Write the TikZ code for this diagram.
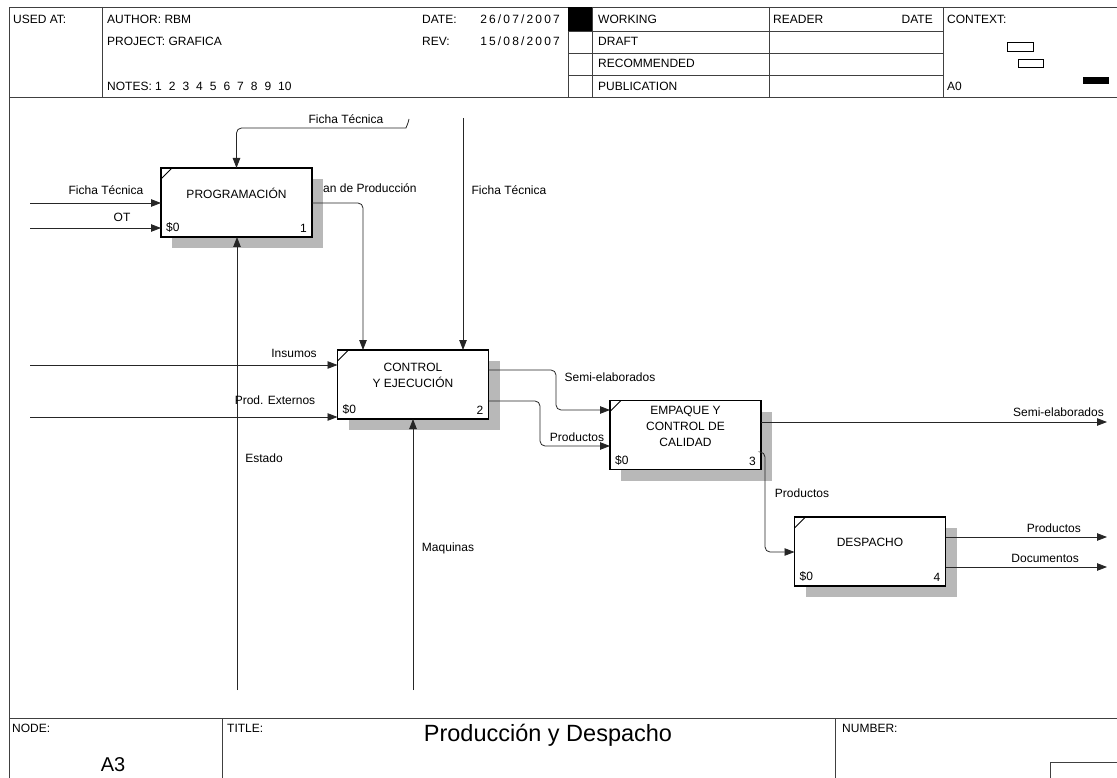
\documentclass[tikz,border=0pt]{standalone}
\usepackage{fontspec}
\setmainfont{Liberation Sans}
\usetikzlibrary{arrows.meta,shadows}

\begin{document}
\begin{tikzpicture}[x=1pt,y=-1pt,
    every node/.style={font=\fontsize{12}{16}\selectfont,inner sep=0pt},
    frame/.style={line width=0.9pt,black!75},
    flow/.style={line width=0.8pt,black!85,rounded corners=5pt,-{Triangle[length=10pt,width=7.5pt]}},
    box/.style={draw,line width=1.8pt,outer sep=0pt,fill=white,minimum width=151pt,minimum height=69pt,
      drop shadow={shadow xshift=11pt,shadow yshift=-11pt,fill=black!28,opacity=1}},
    wide/.style={font=\fontsize{12}{16}\selectfont\addfontfeatures{LetterSpace=18}},
    lbl/.style={fill=none}]
  \useasboundingbox (0,0) rectangle (1117,778);
  % frame and header
  \draw[frame] (9,778)--(9,7)--(1117,7);
  \draw[frame] (9,97)--(1117,97);
  \draw[frame] (9,718)--(1117,718);
  \foreach \x in {102,568,592,769,943} \draw[frame] (\x,7)--(\x,97);
  \foreach \y in {31,53,75} \draw[frame] (568,\y)--++(375,0);
  \fill (568,7) rectangle (592,31);
  \node[anchor=west] (used) at (13,19) {USED AT:};
  \node[anchor=west] (auth) at (107,19) {AUTHOR: RBM};
  \node[anchor=west] (proj) at (107,41) {PROJECT: GRAFICA};
  \node[anchor=west] (notes) at (107,86) {NOTES: 1\hspace{7pt}2\hspace{7pt}3\hspace{7pt}4\hspace{7pt}5\hspace{7pt}6\hspace{7pt}7\hspace{7pt}8\hspace{7pt}9\hspace{7pt}10};
  \node[anchor=west] (date) at (422,19) {DATE:};
  \node[anchor=east,wide] (date-v) at (560,19) {26/07/2007};
  \node[anchor=west] (rev) at (422,41) {REV:};
  \node[anchor=east,wide] (rev-v) at (560,41) {15/08/2007};
  \node[anchor=west] (work) at (598,19) {WORKING};
  \node[anchor=west] (draft) at (598,41) {DRAFT};
  \node[anchor=west] (recom) at (598,63) {RECOMMENDED};
  \node[anchor=west] (publ) at (598,86) {PUBLICATION};
  \node[anchor=west] (reader) at (773,19) {READER};
  \node[anchor=east] (rdate) at (933,19) {DATE};
  \node[anchor=west] (ctx) at (947,19) {CONTEXT:};
  \node[anchor=west] (a0) at (947,86) {A0};
  \draw[line width=0.8pt] (1007,42) rectangle (1033,51);
  \draw[line width=0.8pt] (1018,59) rectangle (1043,67);
  \fill (1083,77) rectangle (1109,84);
  % footer
  \draw[frame] (222,718)--(222,778);
  \draw[frame] (835,718)--(835,778);
  \draw[frame] (1050,778)--(1050,762)--(1117,762);
  \node[anchor=west] (node-l) at (12,728) {NODE:};
  \node[anchor=west] (title-l) at (227,728) {TITLE:};
  \node[anchor=west] (num-l) at (842,728) {NUMBER:};
  \node[font=\fontsize{20}{24}\selectfont] (node-v) at (113,765) {A3};
  \node[font=\fontsize{23.5}{28}\selectfont] (title) at (548,735) {Producción y Despacho};
  % activities
  \foreach \n/\p/\t/\k in {prog/{236.5,202.5}/PROGRAMACIÓN/1,
      ctrl/{413,384.5}/{CONTROL\\Y EJECUCIÓN}/2,
      emp/{685.5,435}/{EMPAQUE Y\\CONTROL DE\\CALIDAD}/3,
      desp/{870,551.5}/DESPACHO/4}{
    \node[box] (\n) at (\p) {};
    \node[align=center] (\n-t) at ([yshift=9pt]\n.center) {\t};
    \node[anchor=south west] (\n-s) at ([shift={(5pt,4pt)}]\n.south west) {\$0};
    \node[anchor=south east] (\n-k) at ([shift={(-5pt,4pt)}]\n.south east) {\k};
    \draw[line width=0.9pt] ([yshift=-11pt]\n.north west)--([xshift=11pt]\n.north west);
  }
  % free ends
  \coordinate (in-ft) at (30,203);
  \coordinate (in-ot) at (30,228);
  \coordinate (in-ins) at (30,365);
  \coordinate (in-ext) at (30,417);
  \coordinate (tun-ft) at (409,119);
  \coordinate (top-ft) at (463,118);
  \coordinate (m-est) at (237,690);
  \coordinate (m-maq) at (413,690);
  \coordinate (out-semi) at (1107,422);
  \coordinate (out-prod) at (1107,537);
  \coordinate (out-doc) at (1107,567);
  % arrows
  \draw[flow] (in-ft)--(in-ft -| prog.west);
  \draw[flow] (in-ot)--(in-ot -| prog.west);
  \draw[flow] (tun-ft) to[out=-100,in=0] ++(-8,9) -| (prog.north);
  \draw[flow] (in-ft -| prog.east) -| ([xshift=-50pt]ctrl.north);
  \draw[flow] (top-ft)--(top-ft |- ctrl.north);
  \draw[flow] (m-est)--(m-est |- prog.south);
  \draw[flow] (in-ins)--(in-ins -| ctrl.west);
  \draw[flow] (in-ext)--(in-ext -| ctrl.west);
  \draw[flow] (m-maq)--(ctrl.south);
  \draw[flow] (ctrl.east |- 0,370)--(556,370)--(556,410)--(emp.west |- 0,410);
  \draw[flow] (ctrl.east |- 0,401)--(540,401)--(540,446)--(emp.west |- 0,446);
  \draw[flow] (emp.east |- out-semi)--(out-semi);
  \draw[flow] (emp.east |- 0,452)--(765,452)--(765,552)--(desp.west |- 0,552);
  \draw[flow] (desp.east |- out-prod)--(out-prod);
  \draw[flow] (desp.east |- out-doc)--(out-doc);
  % arrow labels
  \node[lbl] (l-ft1) at (106,190) {Ficha Técnica};
  \node[lbl] (l-ot) at (122,217) {OT};
  \node[lbl] (l-ft2) at (346,119) {Ficha Técnica};
  \node[lbl,anchor=west] (l-plan) at (323,188) {an de Producción};
  \node[lbl] (l-ft3) at (509,190) {Ficha Técnica};
  \node[lbl] (l-ins) at (294,353) {Insumos};
  \node[lbl] (l-ext) at (275,400) {Prod. Externos};
  \node[lbl] (l-est) at (264,458) {Estado};
  \node[lbl] (l-maq) at (448,548) {Maquinas};
  \node[lbl] (l-semi1) at (610,377) {Semi-elaborados};
  \node[lbl] (l-prod1) at (577,437) {Productos};
  \node[lbl,anchor=east] (l-semi2) at (1104,412) {Semi-elaborados};
  \node[lbl] (l-prod2) at (802,493) {Productos};
  \node[lbl,anchor=east] (l-prod3) at (1081,528) {Productos};
  \node[lbl,anchor=east] (l-doc) at (1079,558) {Documentos};
\end{tikzpicture}
\end{document}
